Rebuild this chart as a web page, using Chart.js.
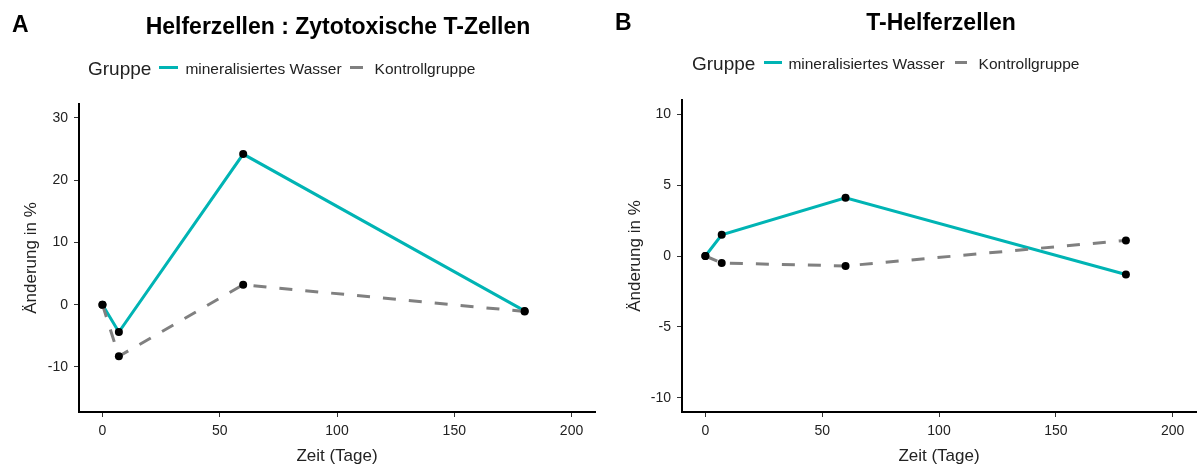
<!DOCTYPE html>
<html>
<head>
<meta charset="utf-8">
<script src="https://cdn.jsdelivr.net/npm/chart.js@4/dist/chart.umd.min.js"></script>
<style>
  body { margin: 0; background: #fff; font-family: "Liberation Sans", Arial, sans-serif; }
  #wrap { position: relative; width: 1198px; height: 466px; overflow: hidden; }
  .panel { position: absolute; top: 0; height: 466px; }
  .panel canvas { position: absolute; left: 0; top: 0; }
  .letter { position: absolute; font-weight: bold; font-size: 23px; color: #000; }
  .titel { position: absolute; font-weight: bold; font-size: 23px; color: #000; white-space: nowrap; transform: translateX(-50%); }
  .legende { position: absolute; white-space: nowrap; color: #222; display: flex; align-items: center; }
  .legende .gr { font-size: 19px; }
  .legende .sw { display: inline-block; height: 3px; position: relative; top: -2px; }
  .legende .lb { font-size: 15.5px; }
</style>
</head>
<body>
<div id="wrap">
  <div class="panel" style="left:0; width:599px">
    <canvas id="chartA" width="599" height="466"></canvas>
    <div class="letter" style="left:12px; top:11px">A</div>
    <div class="titel" style="left:338px; top:13px">Helferzellen : Zytotoxische T-Zellen</div>
    <div class="legende" style="left:88px; top:58px">
      <span class="gr" style="margin-right:8px">Gruppe</span>
      <span class="sw" style="background:#00B4B4; width:19px; margin-right:7px"></span><span class="lb" style="margin-right:8px">mineralisiertes Wasser</span>
      <span class="sw" style="background:#808080; width:13px; margin-right:12px"></span><span class="lb">Kontrollgruppe</span>
    </div>
  </div>
  <div class="panel" style="left:599px; width:601px">
    <canvas id="chartB" width="601" height="466"></canvas>
    <div class="letter" style="left:16px; top:9px">B</div>
    <div class="titel" style="left:342px; top:9px">T-Helferzellen</div>
    <div class="legende" style="left:93px; top:53px">
      <span class="gr" style="margin-right:9px">Gruppe</span>
      <span class="sw" style="background:#00B4B4; width:18px; margin-right:6px"></span><span class="lb" style="margin-right:10px">mineralisiertes Wasser</span>
      <span class="sw" style="background:#808080; width:12px; margin-right:12px"></span><span class="lb">Kontrollgruppe</span>
    </div>
  </div>
</div>
<script>
// Zeitpunkte (Tage)
const tage = [0, 7, 60, 180];

// A: Helferzellen : Zytotoxische T-Zellen
const wasserA = [0, -4.4, 24.2, -1.0];
const kontrolleA = [0, -8.3, 3.2, -1.1];

// B: T-Helferzellen
const wasserB = [0, 1.5, 4.1, -1.3];
const kontrolleB = [0, -0.5, -0.7, 1.1];

// Achsenbeschriftungen
const xTicks = [0, 50, 100, 150, 200];
const yTicksA = [-10, 0, 10, 20, 30];
const yTicksB = [-10, -5, 0, 5, 10];

const tuerkis = '#00B4B4';
const grau = '#808080';

function punkte(werte) {
    return tage.map((t, i) => ({ x: t, y: werte[i] }));
}

function nurTicks(liste) {
    return function (scale) {
        scale.ticks = liste.map(v => ({ value: v }));
    };
}

function erstelleChart(id, wasser, kontrolle, yMin, yMax, yTicks, rand, yTitelAbstand) {
    const ctx = document.getElementById(id).getContext('2d');
    return new Chart(ctx, {
        type: 'line',
        data: {
            datasets: [
                {
                    label: 'Kontrollgruppe',
                    data: punkte(kontrolle),
                    borderColor: grau,
                    borderWidth: 3,
                    borderDash: [13, 13],
                    pointRadius: 4,
                    pointBackgroundColor: '#000',
                    pointBorderColor: '#000',
                    pointBorderWidth: 0,
                    tension: 0,
                    fill: false
                },
                {
                    label: 'mineralisiertes Wasser',
                    data: punkte(wasser),
                    borderColor: tuerkis,
                    borderWidth: 3,
                    pointRadius: 4,
                    pointBackgroundColor: '#000',
                    pointBorderColor: '#000',
                    pointBorderWidth: 0,
                    tension: 0,
                    fill: false
                }
            ]
        },
        options: {
            responsive: false,
            animation: false,
            events: [],
            layout: { padding: { top: rand.oben, left: 0, right: rand.rechts, bottom: 0 } },
            plugins: {
                legend: { display: false },
                title: { display: false },
                tooltip: { enabled: false }
            },
            scales: {
                x: {
                    type: 'linear',
                    min: -10,
                    max: 210,
                    afterBuildTicks: nurTicks(xTicks),
                    afterFit: s => { s.height = rand.unten; },
                    grid: { drawOnChartArea: false, drawTicks: true, tickLength: 5, color: '#333', lineWidth: 1 },
                    border: { display: true, color: '#000', width: 2 },
                    ticks: { color: '#222', padding: 6, font: { family: 'Liberation Sans', size: 14 } },
                    title: { display: true, text: 'Zeit (Tage)', color: '#222', padding: { top: 0, bottom: -1 },
                             font: { family: 'Liberation Sans', size: 17 } }
                },
                y: {
                    type: 'linear',
                    min: yMin,
                    max: yMax,
                    afterBuildTicks: nurTicks(yTicks),
                    afterFit: s => { s.width = rand.links; },
                    grid: { drawOnChartArea: false, drawTicks: true, tickLength: 5, color: '#333', lineWidth: 1 },
                    border: { display: true, color: '#000', width: 2 },
                    ticks: { color: '#222', padding: 6, font: { family: 'Liberation Sans', size: 14 } },
                    title: { display: true, text: 'Änderung in %', color: '#222', padding: { top: yTitelAbstand, bottom: 0 },
                             font: { family: 'Liberation Sans', size: 17 } }
                }
            }
        }
    });
}

erstelleChart('chartA', wasserA, kontrolleA, -17.25, 32.25, yTicksA,
    { oben: 104, rechts: 2, links: 79, unten: 54 }, 21);
erstelleChart('chartB', wasserB, kontrolleB, -11, 11, yTicksB,
    { oben: 100, rechts: 0, links: 83, unten: 54 }, 26);
</script>
</body>
</html>
